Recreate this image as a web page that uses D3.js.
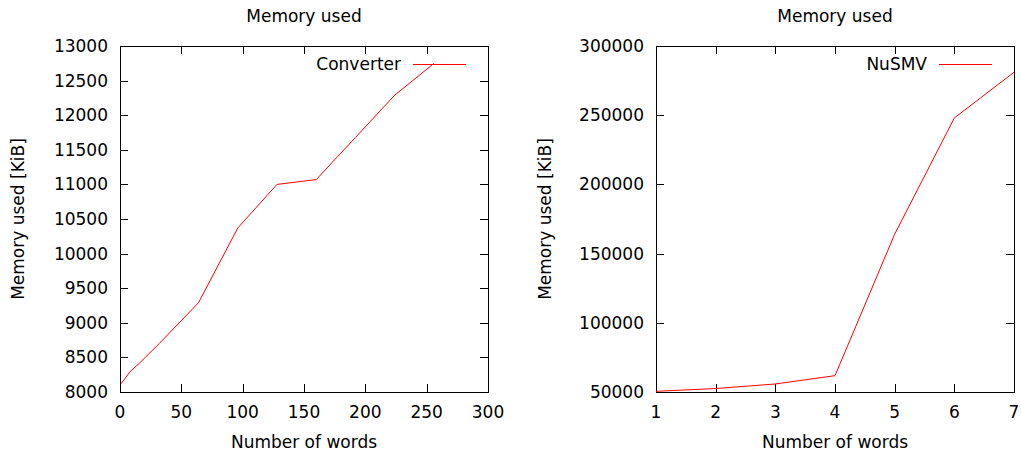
<!DOCTYPE html>
<html>
<head>
<meta charset="utf-8">
<script src="https://cdn.jsdelivr.net/npm/d3@7"></script>
<style>
  body { margin: 0; background: #fff; }
  text { font-family: "DejaVu Sans", sans-serif; fill: #000; }
</style>
</head>
<body>
<svg id="chart" width="1021" height="454"></svg>
<script>
// ------- data -------
var convWords = [1, 8, 16, 32, 64, 96, 128, 160, 192, 224, 256];
var convMem = [8120, 8290, 8420, 8700, 9290, 10370, 11000, 11070, 11680, 12290, 12750];

var nusmvWords = [1, 2, 3, 4, 5, 6, 7];
var nusmvMem = [50500, 52500, 55800, 61800, 164000, 248000, 281000];

var convXTicks = [0, 50, 100, 150, 200, 250, 300];
var convYTicks = [8000, 8500, 9000, 9500, 10000, 10500, 11000, 11500, 12000, 12500, 13000];
var nusmvXTicks = [1, 2, 3, 4, 5, 6, 7];
var nusmvYTicks = [50000, 100000, 150000, 200000, 250000, 300000];

var svg = d3.select("#chart");
var fontSize = 17;
var tickLen = 8;

function drawPanel(opt) {
    var x = d3.scaleLinear().domain(opt.xDomain).range([opt.left, opt.right]);
    var y = d3.scaleLinear().domain(opt.yDomain).range([opt.bottom, opt.top]);
    var g = svg.append("g");

    // ticks, inward, mirrored on all sides (gnuplot style)
    opt.xTicks.forEach(function (t) {
        var px = Math.round(x(t)) + 0.5;
        g.append("line").attr("x1", px).attr("x2", px)
            .attr("y1", opt.bottom).attr("y2", opt.bottom - tickLen)
            .attr("stroke", "#000");
        g.append("line").attr("x1", px).attr("x2", px)
            .attr("y1", opt.top).attr("y2", opt.top + tickLen)
            .attr("stroke", "#000");
        g.append("text").attr("x", x(t)).attr("y", opt.bottom + 26)
            .attr("text-anchor", "middle").style("font-size", fontSize + "px")
            .text(t);
    });
    opt.yTicks.forEach(function (t) {
        var py = Math.round(y(t)) + 0.5;
        g.append("line").attr("x1", opt.left).attr("x2", opt.left + tickLen)
            .attr("y1", py).attr("y2", py).attr("stroke", "#000");
        g.append("line").attr("x1", opt.right).attr("x2", opt.right - tickLen)
            .attr("y1", py).attr("y2", py).attr("stroke", "#000");
        g.append("text").attr("x", opt.left - 12).attr("y", y(t))
            .attr("dy", "0.35em")
            .attr("text-anchor", "end").style("font-size", fontSize + "px")
            .text(t);
    });

    // frame
    g.append("rect")
        .attr("x", opt.left + 0.5).attr("y", opt.top + 0.5)
        .attr("width", opt.right - opt.left).attr("height", opt.bottom - opt.top)
        .attr("fill", "none").attr("stroke", "#000");

    // data line
    var line = d3.line()
        .x(function (d) { return x(d[0]); })
        .y(function (d) { return y(d[1]); });
    var pts = opt.xs.map(function (v, i) { return [v, opt.ys[i]]; });
    g.append("path").datum(pts)
        .attr("d", line)
        .attr("fill", "none").attr("stroke", "#ff0000").attr("stroke-width", 1);

    // legend
    g.append("text").attr("x", opt.legendX).attr("y", 64)
        .attr("dy", "0.35em").attr("text-anchor", "end")
        .style("font-size", fontSize + "px").text(opt.name);
    g.append("line")
        .attr("x1", opt.legendX + 12).attr("x2", opt.legendX + 65)
        .attr("y1", 64.5).attr("y2", 64.5)
        .attr("stroke", "#ff0000");

    // titles
    var cx = (opt.left + opt.right) / 2;
    g.append("text").attr("x", cx).attr("y", 22)
        .attr("text-anchor", "middle").style("font-size", fontSize + "px")
        .text("Memory used");
    g.append("text").attr("x", cx).attr("y", 448)
        .attr("text-anchor", "middle").style("font-size", fontSize + "px")
        .text("Number of words");
    g.append("text")
        .attr("transform", "translate(" + opt.yLabelX + "," + ((opt.top + opt.bottom) / 2) + ")rotate(-90)")
        .attr("text-anchor", "middle").style("font-size", fontSize + "px")
        .text("Memory used [KiB]");
}

drawPanel({
    left: 120, right: 488, top: 46, bottom: 392,
    xDomain: [0, 300], yDomain: [8000, 13000],
    xTicks: convXTicks, yTicks: convYTicks,
    xs: convWords, ys: convMem,
    name: "Converter", legendX: 401, yLabelX: 24
});

drawPanel({
    left: 656, right: 1014, top: 46, bottom: 392,
    xDomain: [1, 7], yDomain: [50000, 300000],
    xTicks: nusmvXTicks, yTicks: nusmvYTicks,
    xs: nusmvWords, ys: nusmvMem,
    name: "NuSMV", legendX: 927, yLabelX: 551
});
</script>
</body>
</html>
